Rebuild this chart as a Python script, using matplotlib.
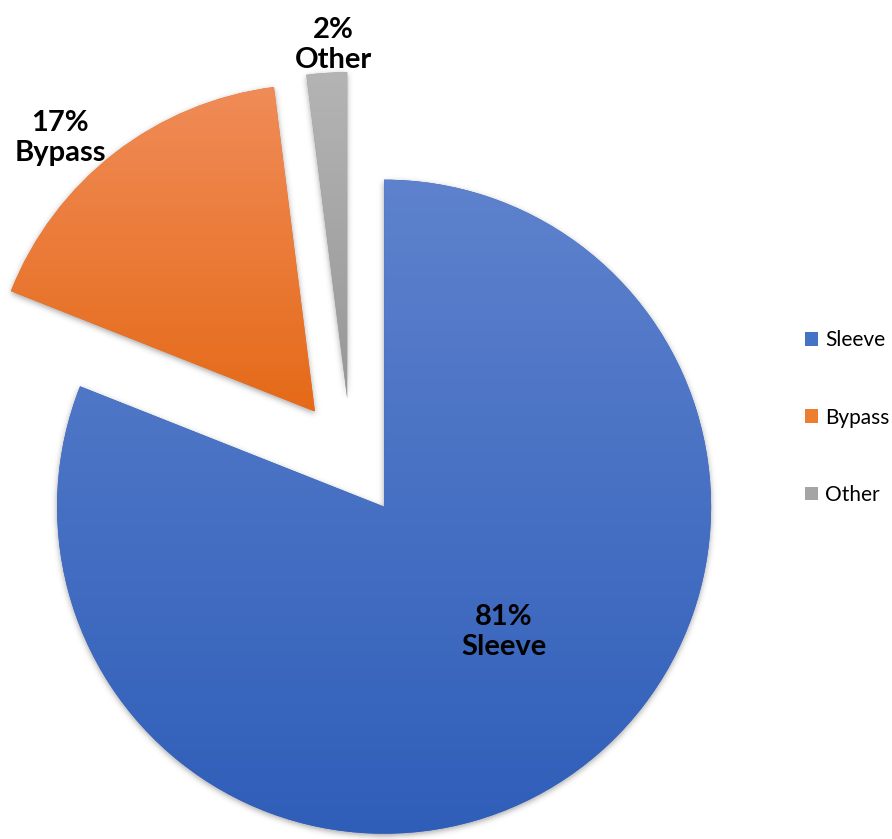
import numpy as np
import matplotlib.pyplot as plt
from matplotlib.colors import to_rgb
from matplotlib.patches import Patch

labels = ['Sleeve', 'Bypass', 'Other']
shares = [81, 17, 2]
top_colors = ['#5E82CD', '#F08C58', '#B4B4B4']
bottom_colors = ['#2F5EB9', '#E56A18', '#979797']
legend_colors = ['#4472C4', '#ED7D31', '#A5A5A5']

W, H = 892, 839
radius = 327
center = (351, H - 458)

plt.rcParams['font.family'] = ['Lato', 'DejaVu Sans']

fig = plt.figure(figsize=(W / 100, H / 100), dpi=100)
ax = fig.add_axes([0, 0, 1, 1])

wedges, _ = ax.pie(shares, startangle=90, counterclock=False,
                   radius=radius, center=center,
                   explode=[0.18 * radius] * len(shares),
                   colors=bottom_colors, wedgeprops=dict(linewidth=0))

# soft drop shadow under all slices
xs = np.arange(W) + 0.5
ys = np.arange(H) + 0.5
gx, gy = np.meshgrid(xs, ys)
pts = np.column_stack([gx.ravel(), gy.ravel()])
mask = np.zeros(len(pts), dtype=float)
for w in wedges:
    mask = np.maximum(mask, w.get_path().contains_points(pts))
mask = mask.reshape(H, W)

sigma = 3.0
k = np.arange(-10, 11)
kern = np.exp(-k ** 2 / (2 * sigma ** 2))
kern /= kern.sum()
blur = np.apply_along_axis(lambda r: np.convolve(r, kern, mode='same'), 1, mask)
blur = np.apply_along_axis(lambda c: np.convolve(c, kern, mode='same'), 0, blur)
# push the shadow a couple of pixels down (rows run bottom-up here)
shifted = np.zeros_like(blur)
shifted[:-2] = blur[2:]

shadow = np.zeros((H, W, 4))
shadow[..., :3] = 0.35
shadow[..., 3] = shifted * 0.55
ax.imshow(shadow, extent=(0, W, 0, H), origin='lower', zorder=0.5,
          interpolation='bilinear')

# vertical gradient fill on each slice
for w, c_top, c_bot in zip(wedges, top_colors, bottom_colors):
    v = w.get_path().vertices
    x0, x1 = v[:, 0].min(), v[:, 0].max()
    y0, y1 = v[:, 1].min(), v[:, 1].max()
    t = np.linspace(0, 1, 256)[:, None]
    lo = np.array(to_rgb(c_bot))
    hi = np.array(to_rgb(c_top))
    grad = (lo * (1 - t) + hi * t)[:, None, :]
    im = ax.imshow(grad, extent=(x0, x1, y0, y1), origin='lower',
                   aspect='auto', interpolation='bicubic', zorder=2)
    im.set_clip_path(w)
    w.set_zorder(1)

# baselines of the second line of each data label
label_pos = [(504, H - 655), (60, H - 161), (333, H - 68)]
for lab, val, (tx, ty) in zip(labels, shares, label_pos):
    ax.text(tx, ty, f'{val}%\n{lab}', ha='center', va='baseline',
            fontsize=21, fontweight='bold', linespacing=1.2, zorder=5)

handles = [Patch(facecolor=c, edgecolor='none') for c in legend_colors]
fig.legend(handles, labels, loc='center left', bbox_to_anchor=(805 / W, 1 - 417.5 / H),
           frameon=False, fontsize=15, handlelength=0.62, handleheight=0.62,
           handletextpad=0.35, labelspacing=2.75, borderpad=0, borderaxespad=0)

ax.set_xlim(0, W)
ax.set_ylim(0, H)
ax.set_aspect('auto')
ax.axis('off')

fig.savefig('out.png', dpi=100)
